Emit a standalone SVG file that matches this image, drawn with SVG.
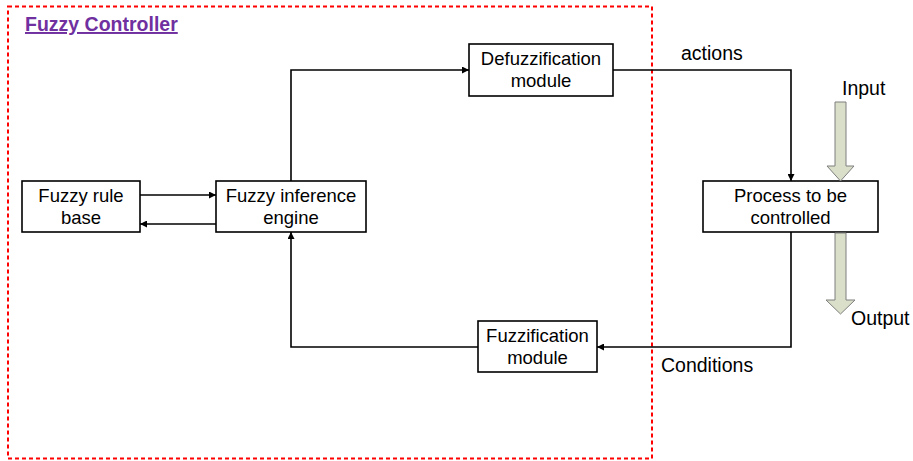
<svg xmlns="http://www.w3.org/2000/svg" width="913" height="461" viewBox="0 0 913 461">
<style>
.box{fill:#fff;stroke:#000;stroke-width:1.6}
.t{font-family:"Liberation Sans",Arial,sans-serif;font-size:18.5px;fill:#000;text-anchor:middle}
.l{font-family:"Liberation Sans",Arial,sans-serif;font-size:19.5px;fill:#000}
.c{fill:none;stroke:#000;stroke-width:1.6}
.blk{fill:#D9DFC9;stroke:#7F7F7F;stroke-width:1}
</style>
<defs>
<marker id="ah" viewBox="0 0 10 10" refX="10" refY="5" markerWidth="7" markerHeight="7" markerUnits="userSpaceOnUse" orient="auto">
<path d="M0,0 L10,5 L0,10 z" fill="#000"/>
</marker>
</defs>
<rect x="8" y="6.5" width="644" height="452" fill="none" stroke="#FF0000" stroke-width="2" stroke-dasharray="4,3"/>
<text x="25" y="31" font-family="'Liberation Sans',Arial,sans-serif" font-size="19.5" font-weight="bold" fill="#7030A0" text-decoration="underline">Fuzzy Controller</text>
<g id="connectors">
<line class="c" x1="140" y1="195" x2="216" y2="195" marker-end="url(#ah)"/>
<line class="c" x1="216" y1="224" x2="140" y2="224" marker-end="url(#ah)"/>
<polyline class="c" points="291,181 291,70 469,70" marker-end="url(#ah)"/>
<polyline class="c" points="613,70 791,70 791,181" marker-end="url(#ah)"/>
<polyline class="c" points="791,232 791,347 597,347" marker-end="url(#ah)"/>
<polyline class="c" points="478,347 291,347 291,232" marker-end="url(#ah)"/>
</g>
<g id="rulebase">
<rect class="box" x="22" y="181" width="118" height="51"/>
<text class="t" x="81" y="202">Fuzzy rule</text>
<text class="t" x="81" y="224">base</text>
</g>
<g id="inference">
<rect class="box" x="216" y="181" width="150" height="51"/>
<text class="t" x="291" y="202">Fuzzy inference</text>
<text class="t" x="291" y="224">engine</text>
</g>
<g id="defuzz">
<rect class="box" x="469" y="44" width="144" height="52"/>
<text class="t" x="541" y="65">Defuzzification</text>
<text class="t" x="541" y="87">module</text>
</g>
<g id="fuzz">
<rect class="box" x="478" y="321" width="119" height="51"/>
<text class="t" x="537.5" y="342">Fuzzification</text>
<text class="t" x="537.5" y="364">module</text>
</g>
<g id="process">
<rect class="box" x="703" y="181" width="175" height="51"/>
<text class="t" x="790.5" y="202">Process to be</text>
<text class="t" x="790.5" y="224">controlled</text>
</g>
<g id="input">
<path class="blk" d="M835,102 L846,102 L846,166 L854,166 L840.5,181 L827,166 L835,166 z"/>
<text class="l" x="842" y="95">Input</text>
</g>
<g id="output">
<path class="blk" d="M835,233 L846,233 L846,300 L855,300 L840.5,314 L826,300 L835,300 z"/>
<text class="l" x="851" y="325">Output</text>
</g>
<text class="l" x="681" y="60">actions</text>
<text class="l" x="661" y="372">Conditions</text>
</svg>
